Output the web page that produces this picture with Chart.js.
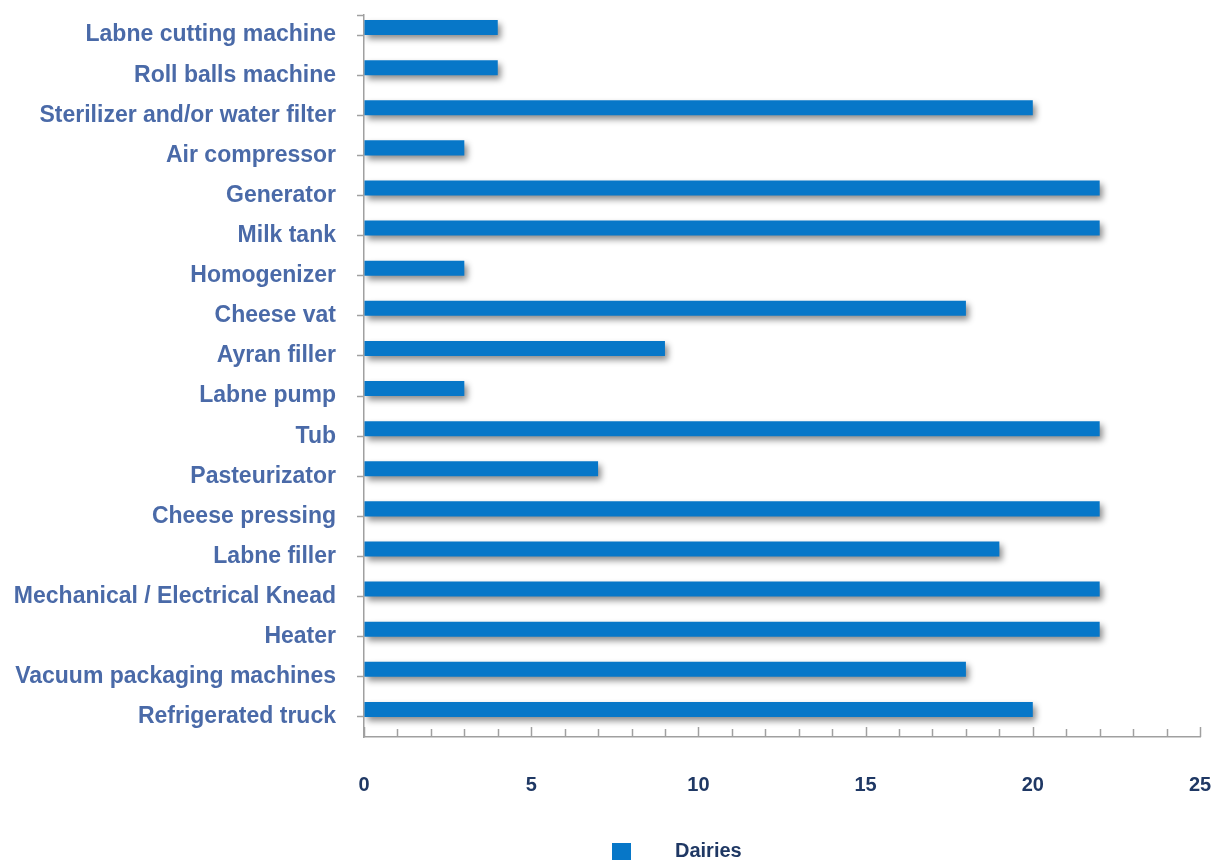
<!DOCTYPE html>
<html>
<head>
<meta charset="utf-8">
<title>Dairies equipment</title>
<script src="https://cdn.jsdelivr.net/npm/chart.js@4.4.0/dist/chart.umd.min.js"></script>
<style>
  body { margin: 0; background: #fff; }
  .wrap { position: relative; width: 1214px; height: 860px; overflow: hidden; }
  .legend { position: absolute; left: 612px; top: 842px; font: bold 20px "Liberation Sans", Arial, sans-serif; color: #1f3864; }
  .legend .box { position: absolute; left: 0; top: 1px; width: 19px; height: 19px; background: #0777c8; }
  .legend .txt { position: absolute; left: 63px; top: -3px; white-space: nowrap; }
</style>
</head>
<body>
<div class="wrap">
  <canvas id="chart" width="1214" height="860"></canvas>
  <div class="legend"><span class="box"></span><span class="txt">Dairies</span></div>
</div>
<script>
const categories = [
  "Labne cutting machine",
  "Roll balls machine",
  "Sterilizer and/or water filter",
  "Air compressor",
  "Generator",
  "Milk tank",
  "Homogenizer",
  "Cheese vat",
  "Ayran filler",
  "Labne pump",
  "Tub",
  "Pasteurizator",
  "Cheese pressing",
  "Labne filler",
  "Mechanical / Electrical Knead",
  "Heater",
  "Vacuum packaging machines",
  "Refrigerated truck"
];
const dairies = [4, 4, 20, 3, 22, 22, 3, 18, 9, 3, 22, 7, 22, 19, 22, 22, 18, 20];
const xTickLabels = [0, 5, 10, 15, 20, 25];

const AXIS_GREY = "#a0a0a0";

// soft drop shadow under the bars
const barShadow = {
  id: "barShadow",
  beforeDatasetsDraw(chart) {
    const ctx = chart.ctx;
    ctx.save();
    ctx.shadowColor = "rgba(0, 0, 0, 0.45)";
    ctx.shadowBlur = 6;
    ctx.shadowOffsetX = 3;
    ctx.shadowOffsetY = 4;
  },
  afterDatasetsDraw(chart) {
    chart.ctx.restore();
  }
};

// tick marks on the value axis point up into the plot
const innerTicks = {
  id: "innerTicks",
  afterDraw(chart) {
    const ctx = chart.ctx;
    const x = chart.scales.x;
    const bottom = chart.chartArea.bottom;
    ctx.save();
    ctx.strokeStyle = AXIS_GREY;
    ctx.lineWidth = 1.5;
    for (let v = x.min; v <= x.max; v++) {
      const px = Math.round(x.getPixelForValue(v)) + 0.5;
      const len = xTickLabels.includes(v) ? 10 : 8;
      ctx.beginPath();
      ctx.moveTo(px, bottom);
      ctx.lineTo(px, bottom - len);
      ctx.stroke();
    }
    // small cap at the top of the category axis
    const left = chart.chartArea.left;
    const top = chart.chartArea.top;
    ctx.beginPath();
    ctx.moveTo(left - 7, top + 0.5);
    ctx.lineTo(left, top + 0.5);
    ctx.stroke();
    ctx.restore();
  }
};

const ctx = document.getElementById("chart").getContext("2d");

new Chart(ctx, {
  type: "bar",
  data: {
    labels: categories,
    datasets: [
      {
        label: "Dairies",
        data: dairies,
        backgroundColor: "#0777c8",
        borderWidth: 0,
        categoryPercentage: 0.75,
        barPercentage: 1
      },
      {
        // empty second series, keeps the bars in the upper half of each slot
        label: "",
        data: [],
        backgroundColor: "#0777c8",
        categoryPercentage: 0.75,
        barPercentage: 1
      }
    ]
  },
  options: {
    indexAxis: "y",
    responsive: false,
    animation: false,
    layout: { padding: { top: 15, right: 14, left: 0, bottom: 0 } },
    plugins: {
      legend: { display: false },
      tooltip: { enabled: false }
    },
    scales: {
      x: {
        min: 0,
        max: 25,
        grid: { drawOnChartArea: false, drawTicks: false },
        border: { color: AXIS_GREY, width: 1.5 },
        ticks: {
          stepSize: 1,
          autoSkip: false,
          maxRotation: 0,
          padding: 36,
          color: "#1f3864",
          font: { family: "Liberation Sans, Arial, sans-serif", size: 20, weight: "bold" },
          callback: (v) => (xTickLabels.includes(v) ? String(v) : "")
        },
        afterFit(scale) {
          scale.height = 123;
          scale.paddingLeft = 0;
          scale.paddingRight = 0;
        }
      },
      y: {
        grid: { drawOnChartArea: false, offset: false, tickLength: 7, color: AXIS_GREY, tickWidth: 1.5 },
        border: { color: AXIS_GREY, width: 1.5 },
        ticks: {
          padding: 21,
          autoSkip: false,
          color: "#4a6aa8",
          font: { family: "Liberation Sans, Arial, sans-serif", size: 23, weight: "bold" }
        },
        afterFit(scale) {
          scale.width = 364;
          scale.paddingTop = 0;
          scale.paddingBottom = 0;
        }
      }
    }
  },
  plugins: [barShadow, innerTicks]
});
</script>
</body>
</html>
